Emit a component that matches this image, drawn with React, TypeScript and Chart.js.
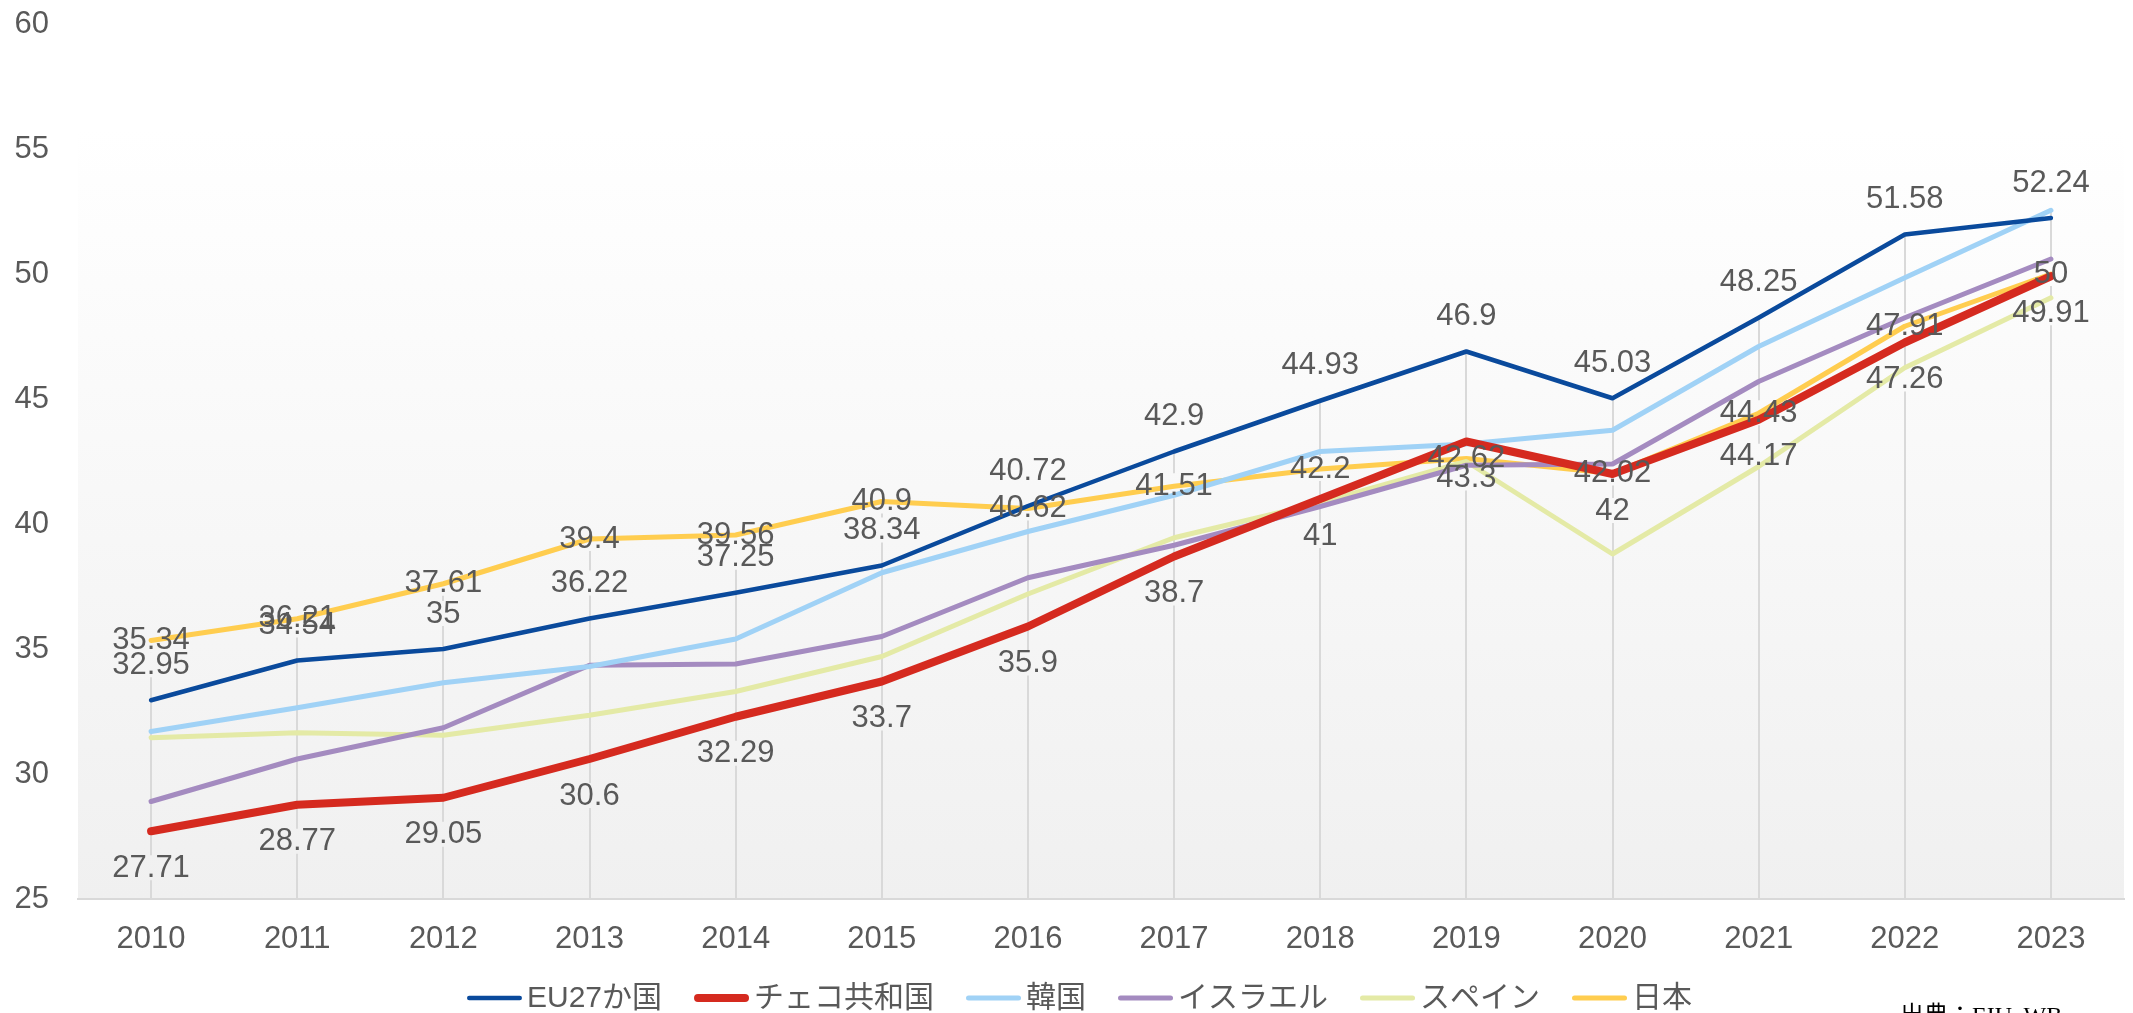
import { useEffect, useRef } from "react";
import { Chart, registerables } from "chart.js";

Chart.register(...registerables);

const years = ["2010", "2011", "2012", "2013", "2014", "2015", "2016", "2017", "2018", "2019", "2020", "2021", "2022", "2023"];
const eu27 = [32.95, 34.54, 35, 36.22, 37.25, 38.34, 40.72, 42.9, 44.93, 46.9, 45.03, 48.25, 51.58, 52.24];
const czech = [27.71, 28.77, 29.05, 30.6, 32.29, 33.7, 35.9, 38.7, 41, 43.3, 42, 44.17, 47.26, 49.91];
const korea = [31.7, 32.65, 33.65, 34.3, 35.4, 38.05, 39.7, 41.15, 42.9, 43.2, 43.75, 47.1, 49.85, 52.55];
const israel = [28.9, 30.6, 31.85, 34.35, 34.4, 35.5, 37.85, 39.15, 40.7, 42.35, 42.4, 45.7, 48.25, 50.6];
const spain = [31.45, 31.65, 31.55, 32.35, 33.3, 34.7, 37.2, 39.45, 40.85, 42.5, 38.8, 42.3, 46.25, 49.05];
const japan = [35.34, 36.21, 37.61, 39.4, 39.56, 40.9, 40.62, 41.51, 42.2, 42.62, 42.02, 44.43, 47.91, 50];

const yMin = 25;
const yMax = 60;
const yStep = 5;

const seriesNames = ["EU27か国", "チェコ共和国", "韓国", "イスラエル", "スペイン", "日本"];
const seriesColors = ["#0a4a9c", "#d52a1f", "#a0d2f6", "#a48bc0", "#e4eaa6", "#ffcd4f"];
const seriesWidths = [4.5, 8, 5, 5, 5, 5];
const seriesData = [eu27, czech, korea, israel, spain, japan];
// label placement per series: -1 above, 1 below, 0 centered, null none
const labelPlacement: (number | null)[] = [-1, 1, null, null, null, 0];

const textColor = "#595959";
const fontFamily = '"Liberation Sans", Arial, "Noto Sans CJK JP", sans-serif';
const labelFont = `31px ${fontFamily}`;
const legendFont = `30px ${fontFamily}`;

function labelOffset(place: number) {
  if (place < 0) return -35;
  if (place > 0) return 37;
  return 0;
}

const customPlugin = {
  id: "custom",
  beforeDraw(chart: any) {
    const { ctx, chartArea: ca } = chart;
    const g = ctx.createLinearGradient(0, ca.top, 0, ca.bottom);
    g.addColorStop(0, "#ffffff");
    g.addColorStop(0.12, "#ffffff");
    g.addColorStop(1, "#f0f0f0");
    chart.$bgGrad = g;
    ctx.save();
    ctx.fillStyle = "#ffffff";
    ctx.fillRect(0, 0, chart.width, chart.height);
    ctx.fillStyle = g;
    ctx.fillRect(ca.left, ca.top, ca.right - ca.left, ca.bottom - ca.top);
    ctx.restore();
  },
  beforeDatasetsDraw(chart: any) {
    const { ctx, chartArea: ca } = chart;
    const yScale = chart.scales.y;
    const xScale = chart.scales.x;
    ctx.save();
    // drop lines from the highest value at each category
    ctx.strokeStyle = "#d9d9d9";
    ctx.lineWidth = 2;
    years.forEach((_, i) => {
      const maxV = Math.max(...seriesData.map((d) => d[i]));
      const x = Math.round(xScale.getPixelForValue(i));
      ctx.beginPath();
      ctx.moveTo(x, yScale.getPixelForValue(maxV));
      ctx.lineTo(x, ca.bottom);
      ctx.stroke();
    });
    // label boxes hide the drop lines behind them
    ctx.font = labelFont;
    ctx.fillStyle = chart.$bgGrad;
    seriesData.forEach((d, si) => {
      const place = labelPlacement[si];
      if (place === null) return;
      const meta = chart.getDatasetMeta(si);
      d.forEach((v, i) => {
        const pt = meta.data[i];
        const w = ctx.measureText(String(v)).width;
        const cy = pt.y + labelOffset(place);
        ctx.fillRect(pt.x - w / 2 - 1, cy - 13, w + 2, 25);
      });
    });
    ctx.restore();
  },
  afterDatasetsDraw(chart: any) {
    const { ctx } = chart;
    ctx.save();
    ctx.font = labelFont;
    ctx.fillStyle = textColor;
    ctx.textAlign = "center";
    ctx.textBaseline = "middle";
    seriesData.forEach((d, si) => {
      const place = labelPlacement[si];
      if (place === null) return;
      const meta = chart.getDatasetMeta(si);
      d.forEach((v, i) => {
        const pt = meta.data[i];
        ctx.fillText(String(v), pt.x, pt.y + labelOffset(place));
      });
    });
    ctx.restore();
  },
  afterDraw(chart: any) {
    const { ctx } = chart;
    ctx.save();
    ctx.font = legendFont;
    ctx.textBaseline = "middle";
    ctx.textAlign = "left";
    const lineLen = 55;
    const gapText = 5;
    const gapItem = 32;
    const widths = seriesNames.map((n) => ctx.measureText(n).width);
    const total = widths.reduce((a, w) => a + lineLen + gapText + w, 0) + gapItem * (seriesNames.length - 1);
    let x = chart.width / 2 + 13 - total / 2;
    const y = 998;
    seriesNames.forEach((n, i) => {
      ctx.strokeStyle = seriesColors[i];
      ctx.lineWidth = seriesWidths[i];
      ctx.lineCap = "round";
      ctx.beginPath();
      ctx.moveTo(x + seriesWidths[i] / 2, y);
      ctx.lineTo(x + lineLen - seriesWidths[i] / 2, y);
      ctx.stroke();
      ctx.fillStyle = textColor;
      ctx.fillText(n, x + lineLen + gapText, y + 1);
      x += lineLen + gapText + widths[i] + gapItem;
    });
    ctx.restore();
  },
};

export default function App() {
  const canvasRef = useRef<HTMLCanvasElement | null>(null);

  useEffect(() => {
    if (!canvasRef.current) return;
    const chart = new Chart(canvasRef.current, {
      type: "line",
      data: {
        labels: years,
        datasets: seriesData.map((d, i) => ({
          label: seriesNames[i],
          data: d,
          borderColor: seriesColors[i],
          backgroundColor: seriesColors[i],
          borderWidth: seriesWidths[i],
          pointRadius: 0,
          pointHoverRadius: 0,
          tension: 0,
          fill: false,
          borderCapStyle: "round" as const,
          borderJoinStyle: "round" as const,
        })),
      },
      options: {
        animation: false,
        responsive: false,
        devicePixelRatio: 1,
        events: [],
        layout: { padding: { top: 24, right: 9, left: 0, bottom: 64 } },
        plugins: {
          legend: { display: false },
          tooltip: { enabled: false },
          title: { display: false },
        },
        scales: {
          x: {
            type: "category",
            offset: true,
            grid: { display: false, drawTicks: false },
            border: { display: true, color: "#d9d9d9", width: 2 },
            ticks: {
              color: textColor,
              font: { family: fontFamily, size: 31 },
              padding: 22,
              maxRotation: 0,
              autoSkip: false,
            },
            afterFit: (scale: any) => {
              scale.height = 50;
            },
          },
          y: {
            min: yMin,
            max: yMax,
            grid: { display: false, drawTicks: false },
            border: { display: false },
            ticks: {
              stepSize: yStep,
              color: textColor,
              font: { family: fontFamily, size: 31 },
              padding: 29,
            },
            afterFit: (scale: any) => {
              scale.width = 78;
              scale.paddingTop = 0;
              scale.paddingBottom = 0;
            },
          },
        },
      },
      plugins: [customPlugin],
    });
    return () => chart.destroy();
  }, []);

  return (
    <div
      style={{
        position: "fixed",
        left: 0,
        top: 0,
        width: 2133,
        height: 1013,
        overflow: "hidden",
        background: "#ffffff",
      }}
    >
      <canvas ref={canvasRef} width={2133} height={1013} style={{ display: "block", width: 2133, height: 1013 }} />
      <div
        style={{
          position: "absolute",
          left: 1900,
          top: 1003,
          font: '24px "Liberation Serif", "Noto Sans CJK JP", serif',
          lineHeight: 1,
          color: "#000000",
          whiteSpace: "nowrap",
        }}
      >
        出典：EIU, WB
      </div>
    </div>
  );
}
